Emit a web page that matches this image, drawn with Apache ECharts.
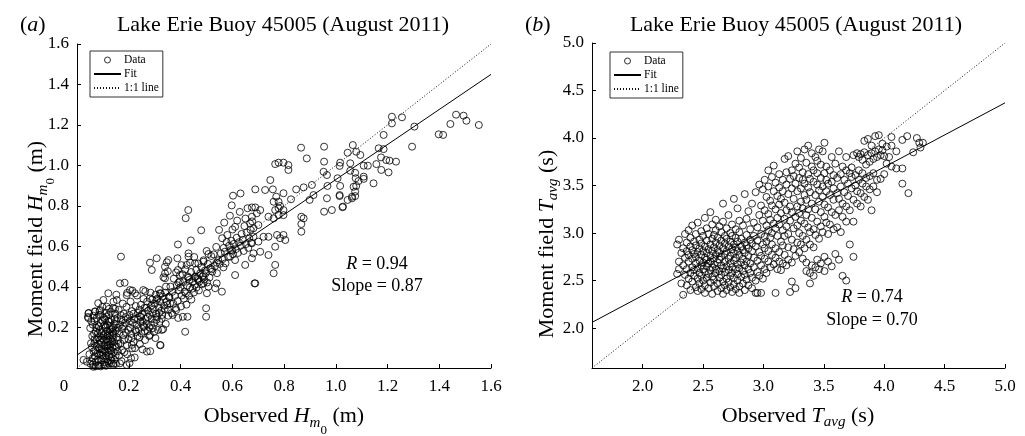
<!DOCTYPE html>
<html>
<head>
<meta charset="utf-8">
<script src="https://cdn.jsdelivr.net/npm/echarts@6/dist/echarts.min.js"></script>
<style>
html,body{margin:0;padding:0;background:#fff}
#chart{width:1025px;height:436px}
</style>
</head>
<body>
<div id="chart"></div>
<script>
// (a) significant wave height, observed vs moment field [x, y]
const hmPoints = [
 [0.052,0.021],[0.061,0.048],[0.058,0.103],[0.072,0.031],[0.068,0.142],[0.074,0.198],[0.083,0.012],[0.079,0.071],[0.086,0.118],[0.081,0.172],[0.084,0.262],[0.093,0.038],[0.089,0.092],[0.096,0.148],[0.091,0.223],[0.103,0.018],[0.099,0.062],[0.106,0.112],[0.101,0.183],[0.104,0.248],[0.098,0.302],[0.113,0.042],[0.109,0.082],[0.116,0.128],[0.111,0.203],[0.114,0.272],[0.123,0.022],[0.119,0.098],[0.126,0.162],[0.121,0.232],[0.133,0.052],[0.129,0.118],[0.136,0.192],[0.131,0.278],[0.143,0.078],[0.139,0.148],[0.146,0.218],[0.141,0.328],
 [0.048,0.068],[0.054,0.122],[0.051,0.197],[0.063,0.258],[0.066,0.168],[0.071,0.088],[0.076,0.247],[0.078,0.212],[0.092,0.008],[0.094,0.124],[0.088,0.188],[0.087,0.282],[0.102,0.138],[0.107,0.212],[0.112,0.011],[0.118,0.158],[0.108,0.238],[0.124,0.058],[0.122,0.132],[0.128,0.188],[0.124,0.292],[0.134,0.024],[0.132,0.088],[0.138,0.162],[0.127,0.228],[0.144,0.041],[0.147,0.108],[0.137,0.178],[0.148,0.268],[0.042,0.252],[0.046,0.272],[0.062,0.018],[0.069,0.058],[0.097,0.078],[0.117,0.108],[0.086,0.068],[0.118,0.213],[0.082,0.152],
 [0.057,0.032],[0.064,0.082],[0.067,0.121],[0.059,0.158],[0.073,0.178],[0.077,0.104],[0.081,0.043],[0.085,0.098],[0.088,0.138],[0.084,0.206],[0.092,0.063],[0.095,0.172],[0.098,0.236],[0.091,0.262],[0.101,0.048],[0.105,0.088],[0.103,0.162],[0.109,0.198],[0.112,0.061],[0.115,0.142],[0.113,0.254],[0.119,0.032],[0.121,0.078],[0.117,0.182],[0.124,0.113],[0.127,0.208],[0.123,0.262],[0.131,0.038],[0.134,0.068],[0.129,0.141],[0.137,0.102],[0.133,0.238],[0.141,0.021],[0.143,0.128],[0.139,0.198],[0.145,0.242],[0.149,0.062],[0.153,0.152],[0.156,0.082],[0.158,0.198],[0.061,0.214],[0.055,0.232],[0.068,0.232],[0.072,0.008],[0.076,0.142],[0.096,0.098],[0.107,0.028],[0.111,0.168],[0.126,0.088],[0.135,0.132],[0.142,0.172],[0.147,0.292],[0.152,0.231],
 [0.160,0.118],[0.164,0.172],[0.169,0.262],[0.174,0.088],[0.178,0.208],[0.182,0.138],[0.188,0.252],[0.194,0.068],[0.198,0.188],[0.204,0.232],[0.211,0.148],[0.218,0.268],[0.224,0.098],[0.229,0.178],[0.235,0.238],[0.242,0.152],[0.247,0.312],[0.254,0.228],[0.262,0.182],[0.268,0.298],[0.274,0.252],[0.279,0.201],[0.292,0.271],[0.298,0.178],[0.307,0.238],[0.318,0.272],[0.327,0.243],
 [0.166,0.023],[0.192,0.015],[0.140,0.015],[0.108,0.015],[0.082,0.015],[0.063,0.006],[0.038,0.031],[0.025,0.040],[0.166,0.418],[0.121,0.369],[0.102,0.336],[0.082,0.320],[0.044,0.270],[0.044,0.246],[0.154,0.336],[0.192,0.360],[0.205,0.385],[0.224,0.369],[0.256,0.385],[0.282,0.344],[0.170,0.550],[0.07,0.28],[0.115,0.303],[0.140,0.295],[0.089,0.286],[0.070,0.278],
 [0.151,0.021],[0.154,0.103],[0.149,0.184],[0.156,0.247],[0.152,0.362],[0.163,0.062],[0.158,0.138],[0.166,0.213],[0.161,0.287],[0.172,0.034],[0.168,0.121],[0.175,0.193],[0.171,0.238],[0.177,0.318],[0.183,0.078],[0.179,0.162],[0.186,0.224],[0.181,0.268],[0.184,0.421],[0.193,0.113],[0.189,0.176],[0.196,0.243],[0.191,0.302],[0.194,0.371],[0.203,0.024],[0.199,0.142],[0.206,0.198],[0.202,0.262],[0.207,0.328],[0.213,0.097],[0.209,0.168],[0.216,0.223],[0.212,0.281],[0.214,0.382],[0.223,0.052],[0.219,0.128],[0.226,0.187],[0.221,0.242],[0.227,0.306],[0.234,0.158],[0.231,0.213],[0.236,0.272],[0.232,0.358],[0.243,0.118],[0.239,0.192],[0.246,0.228],[0.241,0.288],[0.248,0.252],[0.253,0.092],[0.249,0.171],[0.256,0.208],[0.251,0.267],[0.257,0.341],[0.263,0.138],[0.259,0.203],[0.266,0.243],[0.261,0.297],[0.264,0.379],[0.273,0.182],[0.269,0.218],[0.276,0.283],[0.271,0.328],[0.283,0.083],[0.279,0.158],[0.286,0.212],[0.281,0.262],[0.287,0.308],[0.284,0.372],[0.293,0.197],[0.289,0.243],[0.296,0.291],[0.291,0.338],[0.303,0.148],[0.299,0.223],[0.306,0.268],[0.301,0.317],[0.304,0.362],[0.313,0.188],[0.309,0.252],[0.316,0.298],[0.311,0.343],[0.317,0.387],[0.323,0.112],[0.319,0.228],[0.326,0.283],[0.321,0.327],[0.324,0.368],[0.333,0.192],[0.329,0.262],[0.336,0.308],[0.331,0.352],[0.334,0.448],[0.343,0.218],[0.339,0.292],[0.346,0.328],[0.341,0.372],[0.344,0.402],[0.353,0.258],[0.349,0.312],[0.356,0.352],[0.351,0.478],[0.347,0.522],
 [0.282,0.520],[0.308,0.542],[0.289,0.484],[0.340,0.500],[0.340,0.467],[0.340,0.443],[0.321,0.369],[0.308,0.336],[0.328,0.188],[0.321,0.114],[0.270,0.081],[0.282,0.163],[0.212,0.114],[0.209,0.048],[0.244,0.253],
 [0.352,0.287],[0.357,0.348],[0.361,0.402],[0.366,0.271],[0.372,0.318],[0.368,0.376],[0.374,0.441],[0.381,0.296],[0.378,0.356],[0.386,0.409],[0.383,0.472],[0.391,0.247],[0.389,0.331],[0.394,0.384],[0.397,0.427],[0.402,0.304],[0.405,0.358],[0.399,0.398],[0.408,0.463],[0.404,0.508],[0.413,0.342],[0.416,0.377],[0.411,0.424],[0.418,0.487],[0.423,0.313],[0.421,0.369],[0.426,0.406],[0.428,0.452],[0.433,0.357],[0.436,0.398],[0.431,0.446],[0.437,0.521],[0.442,0.338],[0.446,0.392],[0.448,0.428],[0.441,0.474],[0.452,0.373],[0.455,0.411],[0.457,0.449],[0.453,0.548],[0.462,0.398],[0.466,0.441],[0.461,0.484],[0.471,0.383],[0.473,0.427],[0.476,0.468],[0.469,0.516],[0.482,0.414],[0.485,0.452],[0.481,0.498],[0.492,0.437],[0.494,0.481],[0.489,0.532],[0.503,0.422],[0.497,0.467],[0.506,0.514],[0.501,0.578],[0.512,0.447],[0.515,0.492],[0.523,0.476],[0.519,0.553],
 [0.388,0.542],[0.431,0.566],[0.431,0.550],[0.424,0.509],[0.456,0.517],[0.489,0.525],[0.508,0.563],[0.390,0.484],[0.398,0.459],[0.392,0.421],[0.434,0.435],[0.456,0.451],[0.469,0.435],[0.489,0.459],[0.489,0.418],[0.508,0.402],[0.502,0.369],[0.534,0.394],[0.540,0.418],[0.560,0.377],[0.499,0.295],[0.499,0.253],[0.427,0.253],[0.409,0.253],[0.418,0.179],[0.383,0.286],[0.370,0.262],[0.360,0.320],[0.353,0.533],
 [0.43,0.78],[0.42,0.74],[0.48,0.68],[0.39,0.61],[0.44,0.63],
 [0.533,0.503],[0.528,0.561],[0.541,0.468],[0.546,0.532],[0.538,0.598],[0.552,0.514],[0.556,0.566],[0.549,0.682],[0.563,0.538],[0.567,0.593],[0.561,0.641],[0.574,0.517],[0.571,0.574],[0.578,0.622],[0.569,0.718],[0.584,0.549],[0.588,0.604],[0.581,0.657],[0.594,0.583],[0.597,0.628],[0.591,0.752],[0.603,0.562],[0.606,0.613],[0.601,0.684],[0.598,0.803],[0.614,0.587],[0.617,0.643],[0.611,0.697],[0.622,0.568],[0.626,0.621],[0.619,0.728],[0.633,0.604],[0.636,0.662],[0.629,0.771],[0.644,0.578],[0.641,0.633],[0.647,0.701],[0.653,0.612],[0.656,0.669],[0.651,0.738],[0.662,0.593],[0.666,0.641],[0.659,0.789],[0.673,0.618],[0.671,0.682],[0.677,0.724],[0.603,0.851],[0.632,0.862],
 [0.540,0.520],[0.521,0.487],[0.566,0.497],[0.592,0.550],[0.611,0.533],[0.650,0.509],[0.676,0.542],[0.611,0.459],[0.600,0.580],[0.686,0.418],
 [0.747,0.928],[0.727,0.879],[0.757,0.882],[0.770,0.846],[0.760,0.821],[0.779,0.821],[0.785,0.800],[0.798,0.863],[0.779,0.789],[0.766,0.780],[0.689,0.882],[0.689,0.793],[0.676,0.793],[0.695,0.764],[0.708,0.780],[0.676,0.747],[0.740,0.747],[0.760,0.739],[0.779,0.755],[0.798,0.755],[0.798,0.780],[0.669,0.714],[0.701,0.706],[0.682,0.690],[0.773,0.657],[0.798,0.657],[0.785,0.641],[0.805,0.632],[0.766,0.599],[0.740,0.648],[0.721,0.648],[0.701,0.624],[0.682,0.648],[0.676,0.616],[0.708,0.574],[0.682,0.566],[0.740,0.558],[0.766,0.509],[0.760,0.468],[0.689,0.418],
 [0.888,1.035],[0.866,1.088],[0.817,1.002],[0.817,0.978],[0.798,1.014],[0.779,1.014],[0.766,1.007],[0.899,0.830],[0.914,0.854],[0.908,0.904],[0.876,0.892],[0.847,0.882],[0.827,0.833],[0.867,0.747],[0.876,0.739],[0.867,0.711],[0.867,0.673],
 [0.985,0.780],[0.955,0.772],[0.966,0.838],[0.968,0.899],[0.966,0.953],[0.953,0.969],[0.955,1.019],[0.955,1.093],[1.017,0.899],[1.015,0.854],[1.046,0.830],[1.077,0.937],[1.028,0.797],[1.026,0.794],[1.015,0.849],[1.007,0.937],[1.017,1.014],[1.015,0.998],
 [1.056,0.974],[1.075,0.964],[1.079,0.899],[1.108,0.945],[1.108,0.934],[1.088,0.923],[1.069,0.895],[1.075,0.871],[1.063,0.846],[1.075,0.849],[1.063,0.838],[1.146,0.912],[1.124,0.999],[1.108,0.999],[1.095,1.052],[1.079,1.068],[1.066,1.101],[1.046,1.063],[1.056,1.011],
 [1.185,1.151],[1.166,1.085],[1.185,1.081],[1.175,1.040],[1.195,1.027],[1.208,1.024],[1.233,1.019],[1.176,0.978],[1.204,0.966],[1.157,1.007],
 [1.217,1.241],[1.217,1.208],[1.256,1.238],[1.304,1.192],[1.295,1.093],[1.398,1.154],[1.415,1.151],[1.443,1.205],[1.465,1.251],[1.494,1.246],[1.505,1.221],[1.553,1.200]
];
const hmFitX = [0, 1.6];
const hmFitY = [0.064, 1.45];
const hmOneX = [0, 1.6];
const hmOneY = [0, 1.6];

// (b) average period, observed vs moment field [x, y]
const tPoints = [
 [2.285,2.57],[2.285,2.88],[2.30,2.70],[2.30,2.93],[2.30,2.62],[2.32,2.47],[2.32,2.79],[2.335,2.35],[2.335,2.66],[2.335,2.84],[2.35,2.56],[2.35,2.74],[2.35,2.99],
 [2.365,2.45],[2.365,2.62],[2.365,2.81],[2.365,2.90],[2.38,2.52],[2.38,2.70],[2.38,2.77],[2.38,3.03],[2.395,2.40],[2.395,2.58],[2.395,2.86],[2.395,2.95],
 [2.41,2.49],[2.41,2.64],[2.41,2.73],[2.41,2.82],[2.41,3.08],[2.425,2.55],[2.425,2.61],[2.425,2.78],[2.425,2.91],[2.44,2.43],[2.44,2.68],[2.44,2.75],[2.44,2.87],[2.44,2.99],
 [2.455,2.39],[2.455,2.52],[2.455,2.63],[2.455,2.80],[2.455,3.11],[2.47,2.47],[2.47,2.58],[2.47,2.71],[2.47,2.84],[2.47,2.93],[2.485,2.41],[2.485,2.55],[2.485,2.66],[2.485,2.77],[2.485,2.89],[2.485,3.02],
 [2.50,2.50],[2.50,2.62],[2.50,2.69],[2.50,2.81],[2.50,2.97],[2.515,2.37],[2.515,2.45],[2.515,2.59],[2.515,2.74],[2.515,2.86],[2.515,3.16],[2.53,2.53],[2.53,2.65],[2.53,2.72],[2.53,2.79],[2.53,2.92],[2.53,3.05],
 [2.545,2.42],[2.545,2.57],[2.545,2.68],[2.545,2.83],[2.545,2.99],[2.56,2.48],[2.56,2.61],[2.56,2.70],[2.56,2.76],[2.56,2.88],[2.56,3.22],[2.575,2.36],[2.575,2.54],[2.575,2.64],[2.575,2.81],[2.575,2.94],[2.575,3.09],
 [2.59,2.44],[2.59,2.51],[2.59,2.67],[2.59,2.73],[2.59,2.85],[2.59,2.98],[2.605,2.58],[2.605,2.62],[2.605,2.77],[2.605,2.90],[2.605,3.03],[2.605,3.14],[2.62,2.39],[2.62,2.47],[2.62,2.69],[2.62,2.82],[2.62,2.95],
 [2.635,2.53],[2.635,2.60],[2.635,2.72],[2.635,2.79],[2.635,2.87],[2.635,3.07],[2.65,2.42],[2.65,2.56],[2.65,2.66],[2.65,2.75],[2.65,2.92],[2.65,3.01],[2.665,2.36],[2.665,2.49],[2.665,2.63],[2.665,2.84],[2.665,3.12],[2.665,3.31],
 [2.68,2.45],[2.68,2.59],[2.68,2.70],[2.68,2.78],[2.68,2.89],[2.68,2.97],[2.695,2.40],[2.695,2.52],[2.695,2.65],[2.695,2.81],[2.695,2.94],[2.695,3.05],[2.71,2.48],[2.71,2.61],[2.71,2.73],[2.71,2.86],[2.71,3.19],
 [2.725,2.43],[2.725,2.55],[2.725,2.68],[2.725,2.76],[2.725,2.91],[2.725,3.00],[2.74,2.38],[2.74,2.58],[2.74,2.64],[2.74,2.83],[2.74,2.97],[2.74,3.09],[2.755,2.46],[2.755,2.53],[2.755,2.71],[2.755,2.79],[2.755,2.88],[2.755,3.36],
 [2.77,2.41],[2.77,2.62],[2.77,2.74],[2.77,2.85],[2.77,2.95],[2.77,3.04],[2.785,2.50],[2.785,2.57],[2.785,2.67],[2.785,2.81],[2.785,2.91],[2.785,3.26],[2.80,2.37],[2.80,2.44],[2.80,2.63],[2.80,2.77],[2.80,3.01],[2.80,3.13],
 [2.815,2.54],[2.815,2.69],[2.815,2.86],[2.815,2.94],[2.83,2.47],[2.83,2.60],[2.83,2.73],[2.83,2.82],[2.83,3.08],[2.845,2.40],[2.845,2.56],[2.845,2.66],[2.845,2.79],[2.845,2.90],[2.845,3.41],
 [2.86,2.51],[2.86,2.70],[2.86,2.87],[2.86,2.98],[2.86,3.15],[2.875,2.45],[2.875,2.62],[2.875,2.76],[2.875,2.84],[2.875,3.23],[2.89,2.58],[2.89,2.68],[2.89,2.93],[2.89,3.04],[2.905,2.42],[2.905,2.53],[2.905,2.81],[2.905,2.89],[2.905,3.31],
 [2.92,2.64],[2.92,2.74],[2.92,2.97],[2.92,3.11],[2.935,2.37],[2.935,2.50],[2.935,2.86],[2.935,3.43],[2.95,2.37],[2.95,2.59],[2.95,2.71],[2.95,2.92],[2.95,3.06],[2.965,2.55],[2.965,2.80],[2.965,3.19],[2.965,3.51],
 [2.98,2.37],[2.98,2.66],[2.98,2.76],[2.98,2.99],[2.98,3.29],[2.995,2.52],[2.995,2.88],[2.995,3.13],[2.995,3.46],
 [3.01,2.62],[3.01,2.73],[3.01,2.84],[3.01,2.96],[3.01,3.24],[3.01,3.56],[3.025,2.58],[3.025,2.91],[3.025,3.08],[3.025,3.38],[3.04,2.70],[3.04,2.81],[3.04,3.03],[3.04,3.20],[3.04,3.49],[3.04,3.66],
 [3.055,2.64],[3.055,2.95],[3.055,3.14],[3.055,3.34],[3.07,2.77],[3.07,2.88],[3.07,3.00],[3.07,3.29],[3.07,3.59],[3.085,2.67],[3.085,3.10],[3.085,3.44],[3.085,3.71],
 [3.10,2.37],[3.10,2.74],[3.10,2.84],[3.10,3.05],[3.10,3.25],[3.10,3.53],[3.115,2.62],[3.115,2.97],[3.115,3.16],[3.115,3.39],[3.13,2.70],[3.13,2.80],[3.13,3.09],[3.13,3.30],[3.13,3.48],[3.13,3.62],
 [3.145,2.61],[3.145,2.91],[3.145,3.21],[3.145,3.36],[3.16,2.68],[3.16,2.87],[3.16,3.03],[3.16,3.44],[3.16,3.56],[3.175,2.77],[3.175,2.97],[3.175,3.15],[3.175,3.32],[3.175,3.78],
 [3.19,2.66],[3.19,3.07],[3.19,3.24],[3.19,3.51],[3.19,3.64],[3.205,2.72],[3.205,2.85],[3.205,2.99],[3.205,3.41],[3.205,3.81],[3.22,2.38],[3.22,3.13],[3.22,3.28],[3.22,3.57],
 [3.235,2.49],[3.235,2.69],[3.235,2.93],[3.235,3.22],[3.235,3.47],[3.235,3.66],[3.25,2.83],[3.25,3.05],[3.25,3.36],[3.25,3.60],[3.265,2.42],[3.265,2.76],[3.265,3.17],[3.265,3.52],[3.265,3.73],
 [3.28,2.90],[3.28,3.08],[3.28,3.28],[3.28,3.44],[3.28,3.86],[3.295,2.80],[3.295,3.00],[3.295,3.21],[3.295,3.58],[3.295,3.69],[3.31,2.88],[3.31,3.13],[3.31,3.33],[3.31,3.47],[3.31,3.79],
 [3.325,2.73],[3.325,2.97],[3.325,3.26],[3.325,3.56],[3.325,3.64],[3.34,2.84],[3.34,3.10],[3.34,3.40],[3.34,3.52],[3.34,3.88],[3.355,2.60],[3.355,2.69],[3.355,2.93],[3.355,3.19],[3.355,3.35],[3.355,3.74],
 [3.37,3.06],[3.37,3.25],[3.37,3.48],[3.37,3.62],[3.37,3.92],[3.385,2.47],[3.385,2.58],[3.385,2.88],[3.385,3.01],[3.385,3.43],[3.385,3.57],[3.40,2.66],[3.40,3.16],[3.40,3.31],[3.40,3.70],[3.40,3.84],
 [3.415,2.55],[3.415,2.85],[3.415,3.04],[3.415,3.54],[3.415,3.66],[3.43,2.64],[3.43,2.98],[3.43,3.25],[3.43,3.40],[3.43,3.80],[3.445,2.72],[3.445,3.12],[3.445,3.51],[3.445,3.63],[3.445,3.76],
 [3.46,2.62],[3.46,2.94],[3.46,3.33],[3.46,3.45],[3.46,3.88],[3.475,2.68],[3.475,3.07],[3.475,3.22],[3.475,3.58],[3.475,3.72],[3.49,3.01],[3.49,3.38],[3.49,3.49],[3.49,3.86],
 [3.505,2.60],[3.505,2.75],[3.505,3.17],[3.505,3.30],[3.505,3.63],[3.505,3.95],[3.52,3.11],[3.52,3.44],[3.52,3.56],[3.52,3.70],[3.535,2.70],[3.535,2.99],[3.535,3.27],[3.535,3.52],
 [3.55,3.09],[3.55,3.40],[3.55,3.66],[3.565,2.65],[3.565,3.22],[3.565,3.54],[3.565,3.80],[3.58,3.04],[3.58,3.35],[3.58,3.47],[3.58,3.61],[3.595,2.78],[3.595,3.19],[3.595,3.73],
 [3.61,3.06],[3.61,3.42],[3.61,3.58],[3.625,2.72],[3.625,3.24],[3.625,3.36],[3.625,3.86],[3.64,3.01],[3.64,3.49],[3.64,3.62],[3.655,2.55],[3.655,3.17],[3.655,3.31],[3.655,3.70],
 [3.67,3.43],[3.67,3.56],[3.685,2.50],[3.685,3.12],[3.685,3.28],[3.685,3.66],[3.685,3.80],[3.70,3.39],[3.70,3.52],[3.715,2.88],[3.715,3.24],[3.715,3.63],[3.73,3.47],[3.73,3.59],[3.73,3.69],
 [3.745,2.75],[3.745,3.12],[3.745,3.35],[3.745,3.82],[3.76,3.50],[3.76,3.61],[3.775,3.31],[3.775,3.44],[3.775,3.84],[3.79,3.56],[3.79,3.66],[3.79,3.80],[3.805,3.28],[3.805,3.42],[3.805,3.83],
 [3.82,3.52],[3.82,3.63],[3.82,3.77],[3.835,3.38],[3.835,3.85],[3.835,3.97],[3.85,3.49],[3.85,3.58],[3.85,3.72],[3.865,3.35],[3.865,3.82],[3.865,3.99],[3.88,3.46],[3.88,3.60],[3.88,3.75],
 [3.895,3.24],[3.895,3.84],[3.895,3.92],[3.91,3.49],[3.91,3.63],[3.91,3.78],[3.925,3.86],[3.925,4.02],[3.94,3.43],[3.94,3.56],[3.94,3.80],[3.955,3.88],[3.955,4.03],[3.97,3.57],[3.97,3.82],
 [3.985,3.87],[3.985,3.94],[4.00,3.62],[4.00,3.81],[4.02,3.73],[4.02,3.91],[4.04,3.80],[4.06,3.70],[4.06,3.92],[4.06,4.01],[4.10,3.68],[4.10,3.86],[4.15,3.52],[4.15,3.68],[4.15,3.98],
 [4.19,4.02],[4.20,3.42],[4.24,3.85],[4.27,4.00],[4.29,3.95],[4.30,3.90],[4.32,3.95]
];
const tFitX = [1.58, 5.0];
const tFitY = [2.06, 4.37];
const tOneX = [1.58, 5.0];
const tOneY = [1.58, 5.0];

const FONT = 'Liberation Serif';
const pair = (xs, ys) => xs.map((x, i) => [x, ys[i]]);

const chart = echarts.init(document.getElementById('chart'));

function xAxisCfg(idx, min, max, interval, fmt) {
 const a = {
 gridIndex: idx, type: 'value', min: min, max: max,
 axisLine: { lineStyle: { color: '#000', width: 1 } },
 axisTick: { inside: true, length: 4, lineStyle: { color: '#000' } },
 axisLabel: { color: '#000', fontFamily: FONT, fontSize: 17, margin: 10, formatter: fmt },
 splitLine: { show: false }
 };
 if (interval) a.interval = interval;
 return a;
}
function yAxisCfg(idx, min, max, interval, fmt) {
 const a = xAxisCfg(idx, min, max, interval, fmt);
 a.axisLabel.margin = 8;
 return a;
}
const fmtH = v => (v < 0.01 ? '' : v.toFixed(1));
const fmtT = v => (v < 1.9 ? '' : v.toFixed(1));

const scatterStyle = { color: 'transparent', borderColor: '#000', borderWidth: 1 };
function seriesFor(idx, pts, fit, one) {
 return [
 { name: 'Data', type: 'scatter', xAxisIndex: idx, yAxisIndex: idx, data: pts, symbol: 'circle', symbolSize: 7, itemStyle: scatterStyle },
 { name: 'Fit', type: 'line', xAxisIndex: idx, yAxisIndex: idx, data: fit, symbol: 'none', lineStyle: { color: '#000', width: 1 }, itemStyle: { color: '#000' } },
 { name: '1:1 line', type: 'line', xAxisIndex: idx, yAxisIndex: idx, data: one, symbol: 'none', lineStyle: { color: '#111', width: 1, type: [1, 2] }, itemStyle: { color: '#111' } }
 ];
}

function legendCfg(left, top) {
 return {
 left: left, top: top, orient: 'vertical',
 data: [
 { name: 'Data', itemStyle: { color: 'transparent', borderColor: '#000', borderWidth: 1 } },
 { name: 'Fit', itemStyle: { opacity: 0 } },
 { name: '1:1 line', itemStyle: { opacity: 0 } }
 ],
 borderColor: '#333', borderWidth: 1, padding: [3, 4, 3, 3], itemGap: 2,
 itemWidth: 27, itemHeight: 6, selectedMode: false,
 textStyle: { fontFamily: FONT, fontSize: 11.5, color: '#000', padding: [0, 0, 0, -2] }
 };
}

const baseRich = {
 n: { fontFamily: FONT, fontSize: 22, color: '#000' },
 i: { fontFamily: FONT, fontSize: 22, fontStyle: 'italic', color: '#000' },
 s: { fontFamily: FONT, fontSize: 15, fontStyle: 'italic', color: '#000', padding: [14, 0, 0, 0] },
 ss: { fontFamily: FONT, fontSize: 13, color: '#000', padding: [30, 0, 0, 0] },
 sa: { fontFamily: FONT, fontSize: 15, fontStyle: 'italic', color: '#000', padding: [12, 0, 0, 0] },
 r: { fontFamily: FONT, fontSize: 18, color: '#000' },
 ri: { fontFamily: FONT, fontSize: 18, fontStyle: 'italic', color: '#000' }
};
function label(x, y, text, align, rot) {
 return {
 type: 'text', x: x, y: y, rotation: rot || 0,
 style: { text: text, rich: baseRich, align: align || 'center', verticalAlign: 'middle', fontFamily: FONT, fontSize: 22, fill: '#000' }
 };
}

chart.setOption({
 animation: false,
 backgroundColor: '#fff',
 grid: [
 { left: 77, top: 44, width: 414, height: 324 },
 { left: 592, top: 43, width: 413, height: 325 }
 ],
 xAxis: [xAxisCfg(0, 0, 1.6, 0.2, fmtH), xAxisCfg(1, 1.58, 5.0, null, fmtT)],
 yAxis: [yAxisCfg(0, 0, 1.6, 0.2, fmtH), yAxisCfg(1, 1.58, 5.0, null, fmtT)],
 legend: [legendCfg(90, 51), legendCfg(610, 52)],
 series: [].concat(
 seriesFor(0, hmPoints, pair(hmFitX, hmFitY), pair(hmOneX, hmOneY)),
 seriesFor(1, tPoints, pair(tFitX, tFitY), pair(tOneX, tOneY))
 ),
 graphic: [
 label(20, 25, '({i|a})', 'left'),
 label(283, 25, '{n|Lake Erie Buoy 45005 (August 2011)}'),
 label(525, 25, '({i|b})', 'left'),
 label(796, 25, '{n|Lake Erie Buoy 45005 (August 2011)}'),
 { type: 'text', x: 64, y: 387, style: { text: '0', fontFamily: FONT, fontSize: 17, fill: '#000', align: 'center', verticalAlign: 'middle' } },
 label(284, 416, '{n|Observed }{i|H}{s|m}{ss|0}{n| (m)}'),
 label(798, 416, '{n|Observed }{i|T}{sa|avg}{n| (s)}'),
 label(36, 239, '{n|Moment field }{i|H}{s|m}{ss|0}{n| (m)}', 'center', Math.PI / 2),
 label(547, 244, '{n|Moment field }{i|T}{sa|avg}{n| (s)}', 'center', Math.PI / 2),
 label(377, 264, '{ri|R}{r| = 0.94}'),
 label(377, 286, '{r|Slope = 0.87}'),
 label(872, 297, '{ri|R}{r| = 0.74}'),
 label(872, 320, '{r|Slope = 0.70}')
 ]
});
</script>
</body>
</html>
